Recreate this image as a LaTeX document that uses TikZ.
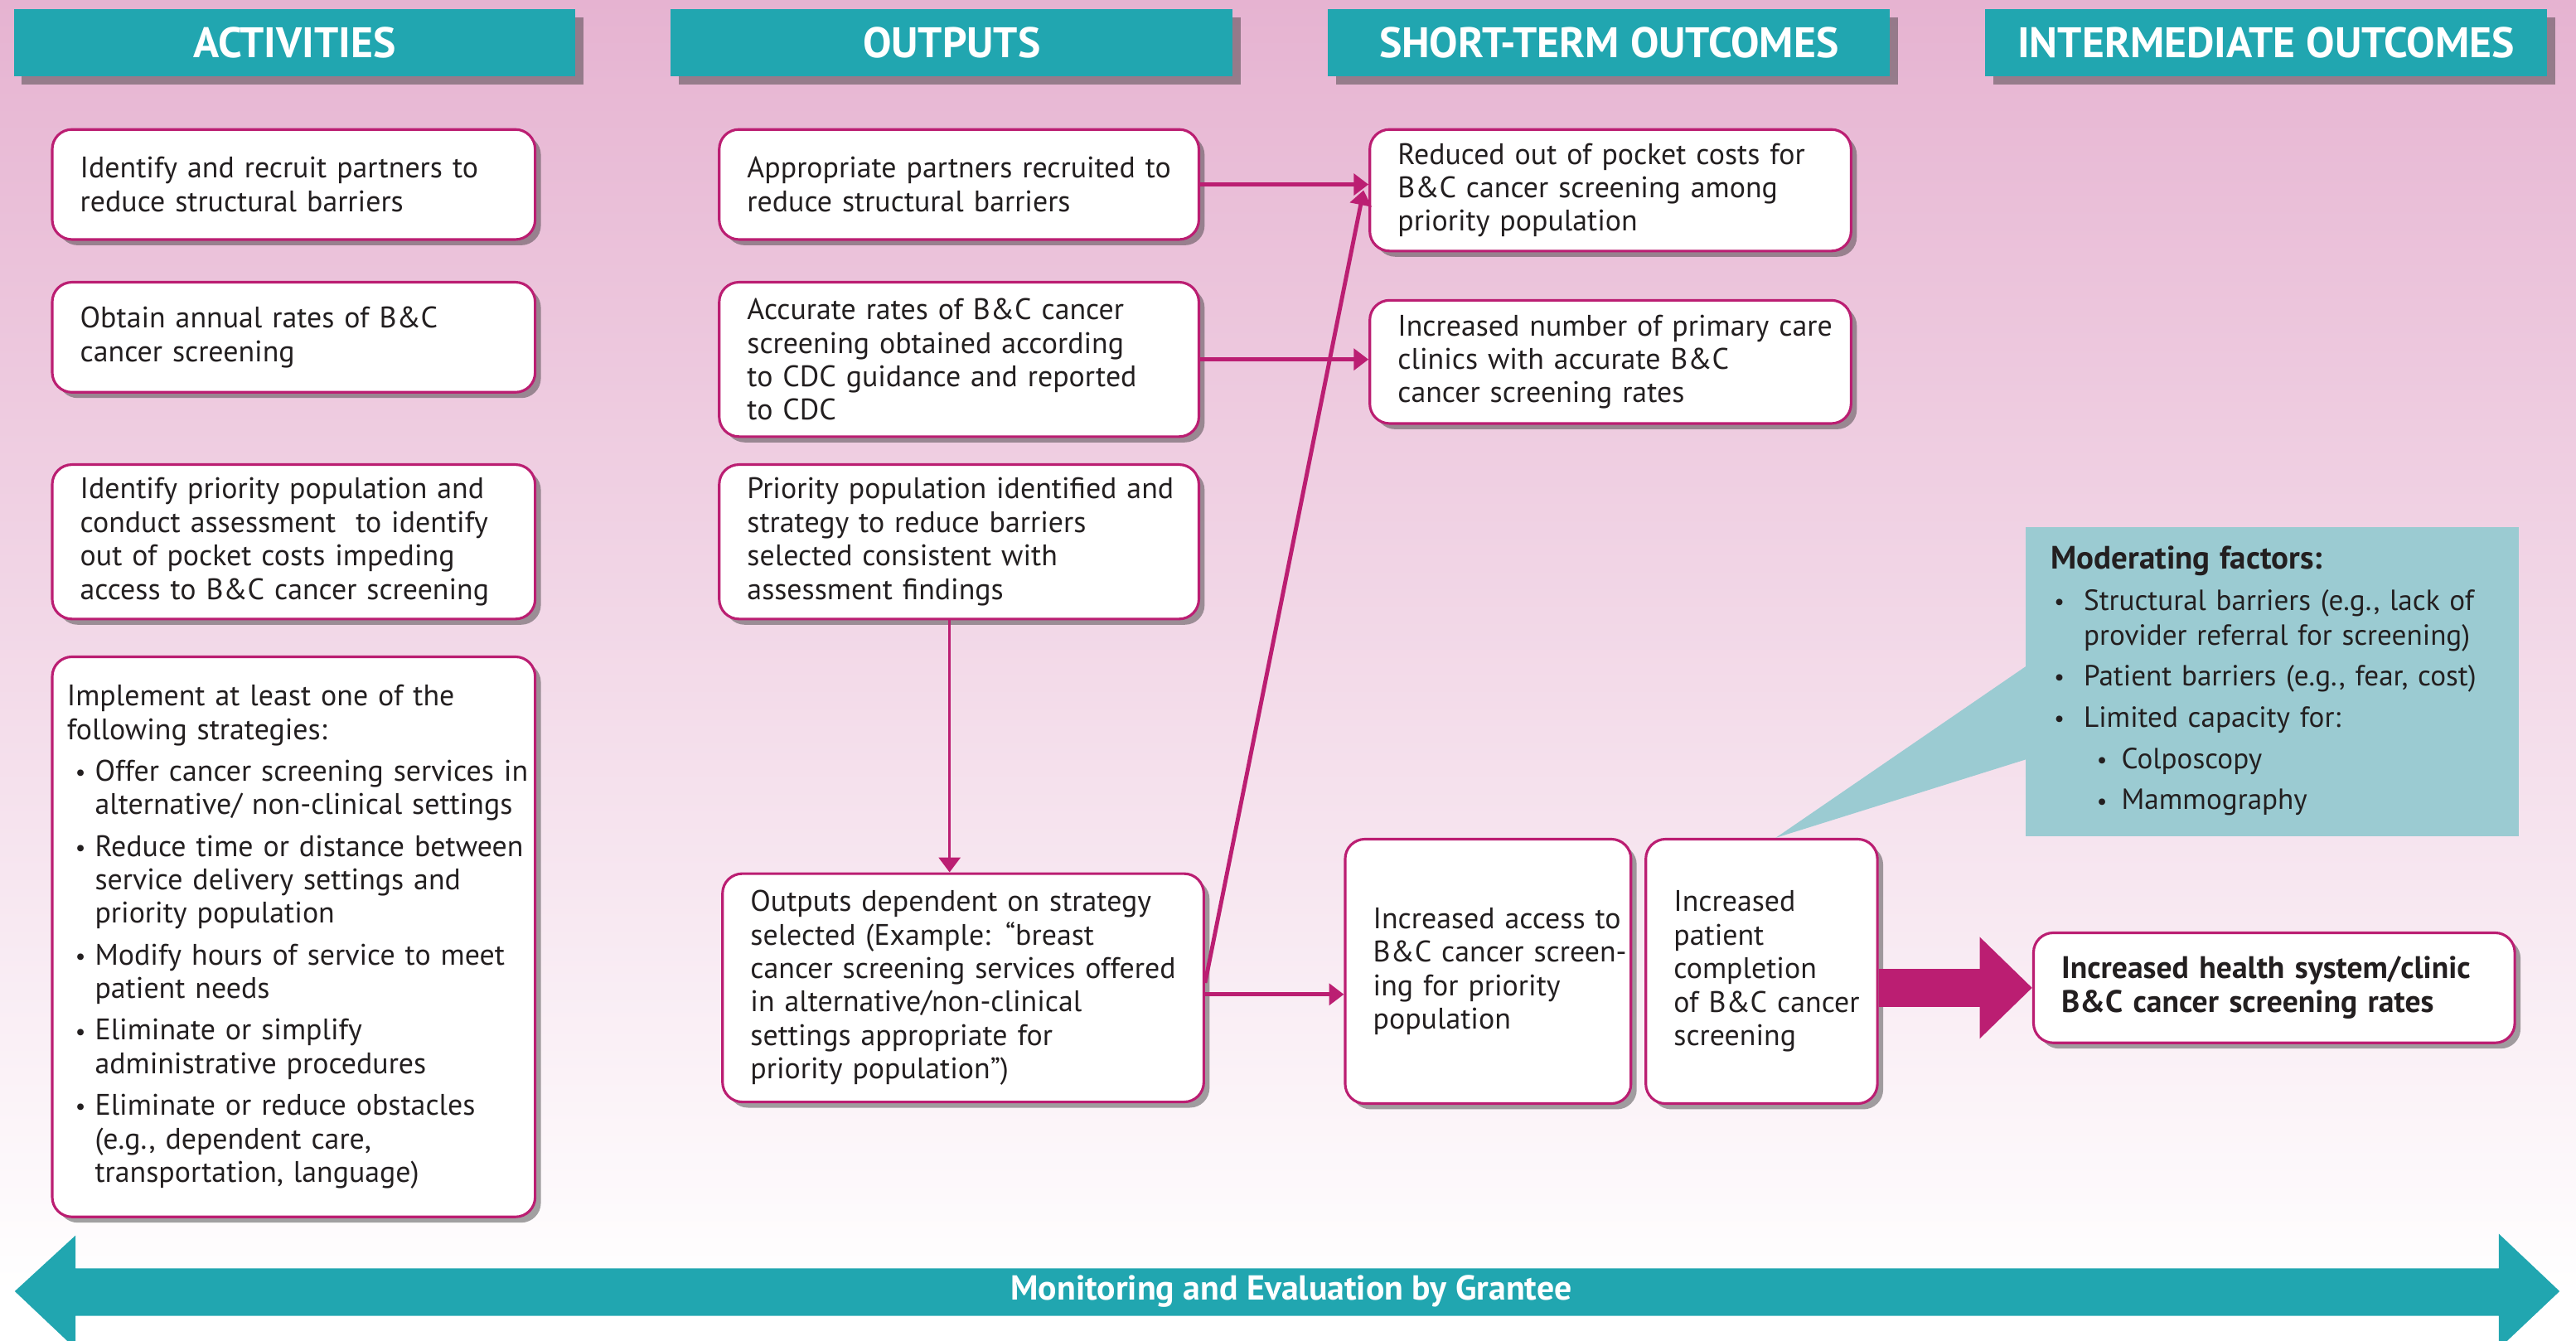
\documentclass[tikz,border=0pt]{standalone}
\usepackage{fontspec}
\setmainfont{PT Sans}
\usetikzlibrary{positioning,arrows.meta,shadows,calc}
\usepackage{xcolor}
\definecolor{bgpink}{HTML}{E6B3D1}
\definecolor{lmteal}{HTML}{21A6B0}
\definecolor{lmmagenta}{HTML}{BB1E72}
\definecolor{calloutblue}{HTML}{9BCBD2}
\definecolor{inkgray}{HTML}{231F20}

\newcommand{\lmdot}{\raisebox{0.05ex}{\footnotesize\textbullet}}
\newcommand{\lmitem}[2]{\par\hangindent=#2\hangafter=1\noindent\makebox[#2][l]{\hspace{#1}\lmdot}}
\newcommand{\lmbr}{\hfil\break}

\begin{document}
\begin{tikzpicture}[
    x=0.02cm, y=-0.02cm,
    header/.style={
        fill=lmteal,
        text=white,
        font=\bfseries\fontsize{14.8}{16}\selectfont,
        minimum width=6.84cm,
        minimum height=0.82cm,
        inner sep=0pt,
        anchor=north west,
        drop shadow={shadow xshift=0.1cm, shadow yshift=-0.1cm, opacity=0.45, fill=black!80},
    },
    box/.style={
        draw=lmmagenta,
        line width=0.9pt,
        fill=white,
        rounded corners=0.24cm,
        anchor=north west,
        align=left,
        inner xsep=0.04cm,
        inner ysep=0pt,
        text=inkgray,
        font=\fontsize{10.3}{11.6}\selectfont,
        execute at begin node={\leftskip=0.3cm\relax},
        drop shadow={shadow xshift=0.07cm, shadow yshift=-0.07cm, opacity=0.45, fill=black!80},
    },
    link/.style={
        draw=lmmagenta,
        line width=1.4pt,
        -{Triangle[length=0.18cm, width=0.26cm]},
    },
]
\useasboundingbox (0,0) rectangle (1568,816);
\clip (0,0) rectangle (1568,816);
\shade[top color=bgpink, bottom color=white] (0,0) rectangle (1568,790);

% column headers
\node[header] (hact) at (8,5) {ACTIVITIES};
\node[header] (hout) at (408,5) {OUTPUTS};
\node[header] (hsto) at (808,5) {SHORT-TERM OUTCOMES};
\node[header] (hint) at (1208,5) {INTERMEDIATE OUTCOMES};

% activities
\node[box, text width=5.8cm, minimum height=1.34cm] (act1) at (31,78)
    {Identify and recruit partners to\\reduce structural barriers};
\node[box, text width=5.8cm, minimum height=1.34cm] (act2) at (31,171)
    {Obtain annual rates of B\&C\\cancer screening};
\node[box, text width=5.8cm, minimum height=1.88cm] (act3) at (31,282)
    {Identify priority population and\\conduct assessment~ to identify\\out of pocket costs impeding\\access to B\&C cancer screening};
\node[box, text width=5.8cm, minimum height=6.82cm] (act4) at (31,399)
    {\leftskip=0.14cm\setlength{\parskip}{0.1cm}\noindent Implement at least one of the\lmbr following strategies:
     \lmitem{0.1cm}{0.34cm}Offer cancer screening services in\lmbr alternative/ non-clinical settings
     \lmitem{0.1cm}{0.34cm}Reduce time or distance between\lmbr service delivery settings and\lmbr priority population
     \lmitem{0.1cm}{0.34cm}Modify hours of service to meet\lmbr patient needs
     \lmitem{0.1cm}{0.34cm}Eliminate or simplify\lmbr administrative procedures
     \lmitem{0.1cm}{0.34cm}Eliminate or reduce obstacles\lmbr (e.g., dependent care,\lmbr transportation, language)\par};

% outputs
\node[box, text width=5.76cm, minimum height=1.34cm] (out1) at (437,78)
    {Appropriate partners recruited to\\reduce structural barriers};
\node[box, text width=5.76cm, minimum height=1.88cm] (out2) at (437,171)
    {Accurate rates of B\&C cancer\\screening obtained according\\to CDC guidance and reported\\to CDC};
\node[box, text width=5.76cm, minimum height=1.88cm] (out3) at (437,282)
    {Priority population identified and\\strategy to reduce barriers\\selected consistent with\\assessment findings};
\node[box, text width=5.78cm, minimum height=2.78cm] (out4) at (439,531)
    {Outputs dependent on strategy\\selected (Example: “breast\\cancer screening services offered\\in alternative/non-clinical\\settings appropriate for\\priority population”)};

% short-term outcomes
\node[box, text width=5.78cm, minimum height=1.48cm] (st1) at (833,78)
    {Reduced out of pocket costs for\\B\&C cancer screening among\\priority population};
\node[box, text width=5.78cm, minimum height=1.5cm] (st2) at (833,182)
    {Increased number of primary care\\clinics with accurate B\&C\\cancer screening rates};
\node[box, text width=3.4cm, minimum height=3.22cm] (st3) at (818,510)
    {Increased access to\\B\&C cancer screen-\\ing for priority\\population};
\node[box, text width=2.74cm, minimum height=3.22cm] (st4) at (1001,510)
    {Increased\\patient\\completion\\of B\&C cancer\\screening};

% intermediate outcome
\node[box, text width=5.78cm, minimum height=1.34cm, font=\bfseries\fontsize{10.8}{11.8}\selectfont] (int1) at (1237,567)
    {Increased health system/clinic\\B\&C cancer screening rates};

% moderating factors
\coordinate (modtip) at ($(st4.north west)!0.56!(st4.north east)$);
\fill[calloutblue] (1233,321) rectangle (1533,509);
\fill[calloutblue] (1234,405) -- (modtip) -- (1234,462) -- cycle;
\node[anchor=north west, inner sep=0pt, text width=5.7cm, align=left, text=inkgray,
      font=\fontsize{10.1}{12}\selectfont] (modf) at (1248,332)
    {\setlength{\parskip}{0.08cm}\noindent{\fontsize{11.2}{12}\selectfont\bfseries Moderating factors:}
     \lmitem{0.04cm}{0.4cm}Structural barriers (e.g., lack of\lmbr provider referral for screening)
     \lmitem{0.04cm}{0.4cm}Patient barriers (e.g., fear, cost)
     \lmitem{0.04cm}{0.4cm}Limited capacity for:
     \lmitem{0.56cm}{0.86cm}Colposcopy
     \lmitem{0.56cm}{0.86cm}Mammography\par};

% connectors
\draw[link] (out1.east) -- (out1.east -| st1.west);
\draw[link] (out2.east) -- (out2.east -| st2.west);
\draw[link, line width=1pt] (out3.south -| 578,0) -- (out4.north -| 578,0);
\draw[link] ([yshift=-0.08cm]out4.east) -- ([yshift=-0.08cm]out4.east -| st3.west);
\draw[link] ([yshift=0.06cm]out4.east) -- ([xshift=-0.06cm]st1.west);
\draw[lmmagenta, line width=0.46cm, -{Triangle[length=0.64cm, width=1.2cm]}]
    (st4.east |- int1.west) -- (int1.west);

% monitoring arrow
\fill[lmteal] (9,786) -- (46,752) -- (46,772) -- (1521,772) -- (1521,751) -- (1558,786)
    -- (1521,821) -- (1521,801) -- (46,801) -- (46,821) -- cycle;
\node[text=white, font=\bfseries\fontsize{12}{14}\selectfont] (monev) at (786,786)
    {Monitoring and Evaluation by Grantee};

\end{tikzpicture}
\end{document}
